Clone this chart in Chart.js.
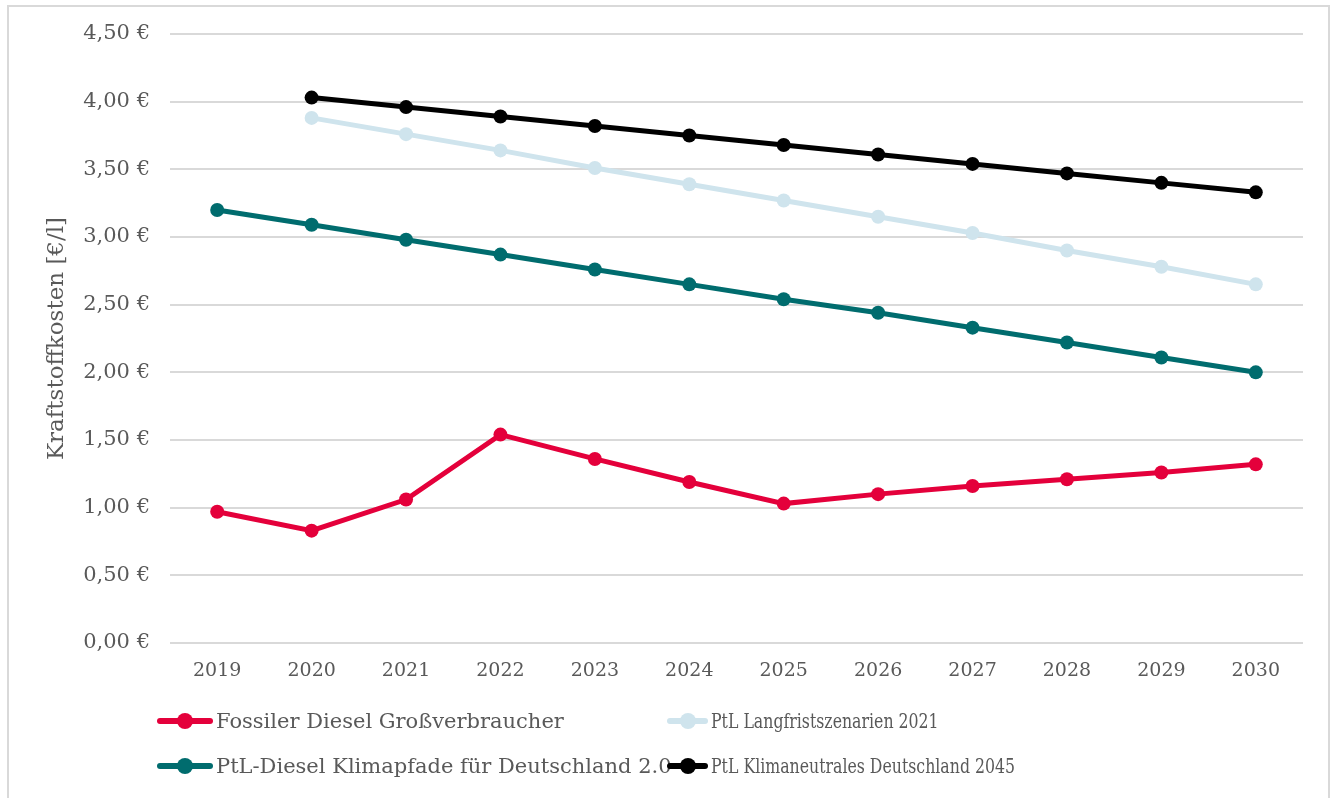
<!DOCTYPE html>
<html lang="de">
<head>
<meta charset="utf-8">
<title>Kraftstoffkosten</title>
<script src="https://cdn.jsdelivr.net/npm/chart.js@4/dist/chart.umd.min.js"></script>
<style>
  html, body { margin: 0; padding: 0; background: #fff; overflow: hidden; }
  #wrap { position: relative; width: 1335px; height: 798px; }
  #frame {
    position: absolute; left: 7px; top: 5px; width: 1323px; height: 820px;
    border: 2px solid #d9d9d9; box-sizing: border-box;
  }
  #chart { position: absolute; left: 0; top: 0; }
  #legend { position: absolute; left: 0; top: 0; width: 1335px; height: 798px; pointer-events: none; }
  .item {
    position: absolute; display: flex; align-items: center; height: 24px;
    font-family: "DejaVu Serif", serif; font-size: 21px; color: #595959; white-space: nowrap;
  }
  .item .txt { display: inline-block; transform-origin: left center; }
  .item.narrow .txt { transform: scaleX(0.75); }
  .mark { position: relative; height: 16px; margin-right: 3px; flex: none; }
  .mark .ln { position: absolute; left: 0; right: 0; top: 5px; height: 6px; border-radius: 3px; }
  .mark .dt { position: absolute; top: 0; width: 16px; height: 16px; border-radius: 50%; left: 50%; margin-left: -8px; }
</style>
</head>
<body>
<div id="wrap">
  <div id="frame"></div>
  <canvas id="chart" width="1335" height="798"></canvas>
  <div id="legend"></div>
</div>
<script>
/* Years on the x axis */
const years = ['2019', '2020', '2021', '2022', '2023', '2024', '2025', '2026', '2027', '2028', '2029', '2030'];

/* Fuel cost per litre in euro */
const fossilDiesel = [0.97, 0.83, 1.06, 1.54, 1.36, 1.19, 1.03, 1.10, 1.16, 1.21, 1.26, 1.32];
const ptlLangfrist = [null, 3.88, 3.76, 3.64, 3.51, 3.39, 3.27, 3.15, 3.03, 2.90, 2.78, 2.65];
const ptlKlimapfade = [3.20, 3.09, 2.98, 2.87, 2.76, 2.65, 2.54, 2.44, 2.33, 2.22, 2.11, 2.00];
const ptlKlimaneutral = [null, 4.03, 3.96, 3.89, 3.82, 3.75, 3.68, 3.61, 3.54, 3.47, 3.40, 3.33];

const seriesNames = [
    'Fossiler Diesel Großverbraucher',
    'PtL Langfristszenarien 2021',
    'PtL-Diesel Klimapfade für Deutschland 2.0',
    'PtL Klimaneutrales Deutschland 2045'
];
const seriesColors = ['#e4003b', '#cfe4ed', '#006c6e', '#000000'];

/* Y axis range */
const yMin = 0;
const yMax = 4.5;
const yStep = 0.5;

const FONT = '"DejaVu Serif", serif';
const TEXT = '#595959';

function euro(v) {
    return v.toFixed(2).replace('.', ',') + ' €';
}

function makeDataset(i, values) {
    return {
        label: seriesNames[i],
        data: values,
        borderColor: seriesColors[i],
        backgroundColor: seriesColors[i],
        borderWidth: 5,
        pointRadius: 7,
        pointHoverRadius: 7,
        pointBorderWidth: 0,
        tension: 0,
        spanGaps: false
    };
}

const datasets = [
    makeDataset(0, fossilDiesel),
    makeDataset(1, ptlLangfrist),
    makeDataset(2, ptlKlimapfade),
    makeDataset(3, ptlKlimaneutral)
];

const chart = new Chart(document.getElementById('chart'), {
    type: 'line',
    data: { labels: years, datasets },
    options: {
        responsive: false,
        animation: false,
        layout: { padding: { left: 0, top: 34, right: 32, bottom: 115 } },
        plugins: {
            legend: { display: false },
            tooltip: { enabled: false }
        },
        scales: {
            x: {
                offset: true,
                grid: { display: false, drawTicks: false },
                border: { display: false },
                ticks: { color: TEXT, font: { family: FONT, size: 19 }, padding: 17, maxRotation: 0 },
                afterFit: s => { s.height = 40; }
            },
            y: {
                min: yMin,
                max: yMax,
                grid: { color: '#d9d9d9', lineWidth: 2, drawTicks: false },
                border: { display: false },
                ticks: {
                    stepSize: yStep,
                    color: TEXT,
                    font: { family: FONT, size: 21 },
                    padding: 20,
                    callback: v => euro(v)
                },
                title: {
                    display: true,
                    text: 'Kraftstoffkosten [€/l]',
                    color: TEXT,
                    font: { family: FONT, size: 23 },
                    padding: { top: 43, bottom: 0 }
                },
                afterFit: s => { s.width = 170; }
            }
        }
    }
});

/* Two-column legend under the plot; right column text is squeezed */
function buildLegend() {
    const box = document.getElementById('legend');
    const spots = [
        { x: 157, y: 709, w: 56, narrow: false },
        { x: 667, y: 709, w: 41, narrow: true },
        { x: 157, y: 754, w: 56, narrow: false },
        { x: 667, y: 754, w: 41, narrow: true }
    ];
    chart.data.datasets.forEach((ds, i) => {
        const el = document.createElement('div');
        el.className = spots[i].narrow ? 'item narrow' : 'item';
        el.style.left = spots[i].x + 'px';
        el.style.top = spots[i].y + 'px';
        el.innerHTML =
            '<span class="mark" style="width:' + spots[i].w + 'px">' +
            '<span class="ln" style="background:' + ds.borderColor + '"></span>' +
            '<span class="dt" style="background:' + ds.borderColor + '"></span></span>' +
            '<span class="txt"></span>';
        el.lastChild.textContent = ds.label;
        box.appendChild(el);
    });
}

buildLegend();
</script>
</body>
</html>
